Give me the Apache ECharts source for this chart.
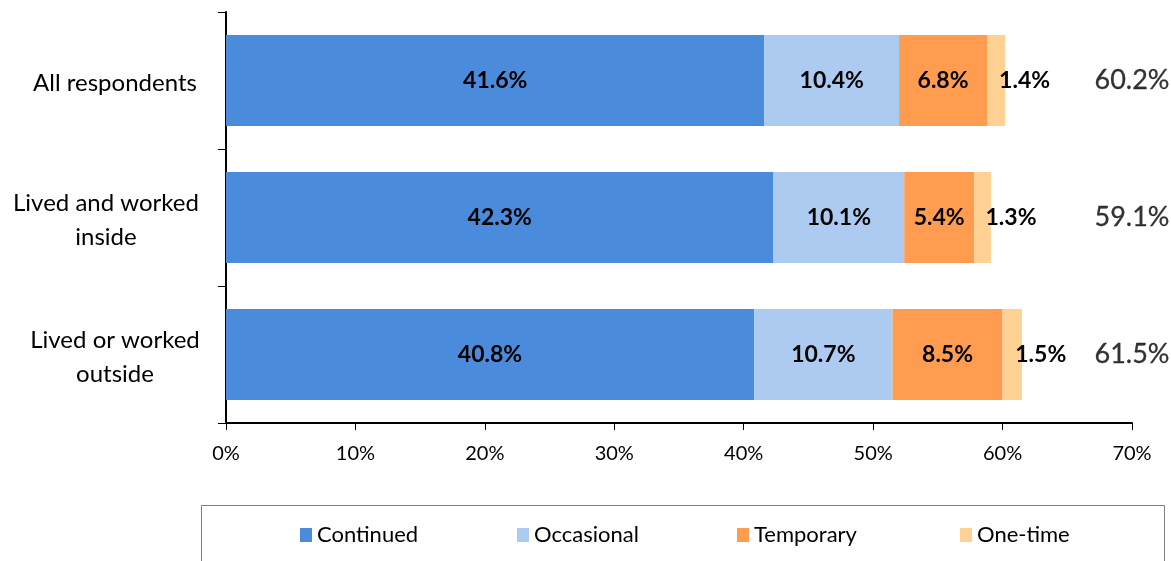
<!DOCTYPE html>
<html>
<head>
<meta charset="utf-8">
<script src="https://cdn.jsdelivr.net/npm/echarts@6/dist/echarts.min.js"></script>
<style>html,body{margin:0;padding:0;background:#fff;}#c{width:1171px;height:561px;}</style>
</head>
<body>
<div id="c"></div>
<script>
var categories = ['All respondents', 'Lived and worked\ninside', 'Lived or worked\noutside'];
var continued = [41.6, 42.3, 40.8];
var occasional = [10.4, 10.1, 10.7];
var temporary = [6.8, 5.4, 8.5];
var oneTime = [1.4, 1.3, 1.5];
var totals = [60.2, 59.1, 61.5];
var seriesNames = ['Continued', 'Occasional', 'Temporary', 'One-time'];
var xTicks = [0, 10, 20, 30, 40, 50, 60, 70];

var FONT = 'Lato';
var colors = ['#4A8BDB', '#ADCBF0', '#FF9C50', '#FFD193'];

var cv = document.createElement('canvas').getContext('2d');
cv.font = '24px ' + FONT;
function labelFmt(v) {
  var lines = v.split('\n');
  var w = 0;
  lines.forEach(function (l) { w = Math.max(w, cv.measureText(l).width); });
  var key = lines.length > 1 && w > 175 ? 'w' : 'n';
  return lines.map(function (l) { return '{' + key + '|' + l + '}'; }).join('\n');
}

var chart = echarts.init(document.getElementById('c'));
function barSeries(name, data, idx, last) {
  return {
    name: name, type: 'bar', stack: 'total', data: data, barWidth: 91,
    itemStyle: { color: colors[idx] },
    label: {
      show: true,
      position: 'inside',
      align: last ? 'left' : 'center',
      offset: last ? [3, 0] : [0, 0],
      formatter: function (p) { return p.value.toFixed(1) + '%'; },
      fontFamily: FONT, fontWeight: 'bold', fontSize: 23, color: '#000'
    }
  };
}
var series = [
  barSeries(seriesNames[0], continued, 0),
  barSeries(seriesNames[1], occasional, 1),
  barSeries(seriesNames[2], temporary, 2),
  barSeries(seriesNames[3], oneTime, 3, true),
  {
    type: 'scatter', name: 'total', symbolSize: 0, clip: false, silent: true,
    data: totals.map(function (t, i) { return [70, categories[i]]; }),
    label: {
      show: true, position: 'inside',
      formatter: function (p) { return totals[p.dataIndex].toFixed(1) + '%'; },
      fontFamily: FONT, fontSize: 27, color: '#000', textBorderColor: '#000', textBorderWidth: 0.3
    }
  }
];

function legendAt(name, left) {
  return {
    data: [name], left: left, top: 524, padding: 0, itemWidth: 12, itemHeight: 14, itemGap: 0,
    icon: 'rect', selectedMode: false,
    textStyle: { fontFamily: FONT, fontSize: 22, color: '#000', padding: [0, 0, 0, 0] }
  };
}

chart.setOption({
  animation: false,
  color: colors,
  grid: { left: 226, right: 39, top: 12, bottom: 138, containLabel: false },
  xAxis: {
    type: 'value', min: 0, max: 70, interval: 10,
    axisLine: { show: true, lineStyle: { color: '#000', width: 2 } },
    axisTick: { show: true, length: 7, lineStyle: { color: '#000' } },
    splitLine: { show: false },
    axisLabel: { formatter: function (v) { return xTicks.indexOf(v) >= 0 ? v + '%' : ''; }, fontFamily: FONT, fontSize: 20, color: '#000', margin: 21 }
  },
  yAxis: {
    type: 'category', data: categories, inverse: true,
    axisLine: { show: true, lineStyle: { color: '#000', width: 2 } },
    axisTick: { show: true, length: 8, alignWithLabel: false, lineStyle: { color: '#000' } },
    axisLabel: {
      margin: 26, formatter: labelFmt, color: '#000', padding: [6, 0, 0, 0],
      rich: {
        n: { fontFamily: FONT, fontSize: 24, color: '#000', width: 170, align: 'center', lineHeight: 34 },
        w: { fontFamily: FONT, fontSize: 24, color: '#000', width: 188, align: 'center', lineHeight: 34 }
      }
    }
  },
  legend: [
    legendAt(seriesNames[0], 300),
    legendAt(seriesNames[1], 517),
    legendAt(seriesNames[2], 737),
    legendAt(seriesNames[3], 960)
  ],
  graphic: [{
    type: 'rect', shape: { x: 201.5, y: 505.5, width: 963, height: 80 },
    style: { fill: 'none', stroke: '#7f7f7f', lineWidth: 1 }, silent: true
  }],
  series: series
});
</script>
</body>
</html>
